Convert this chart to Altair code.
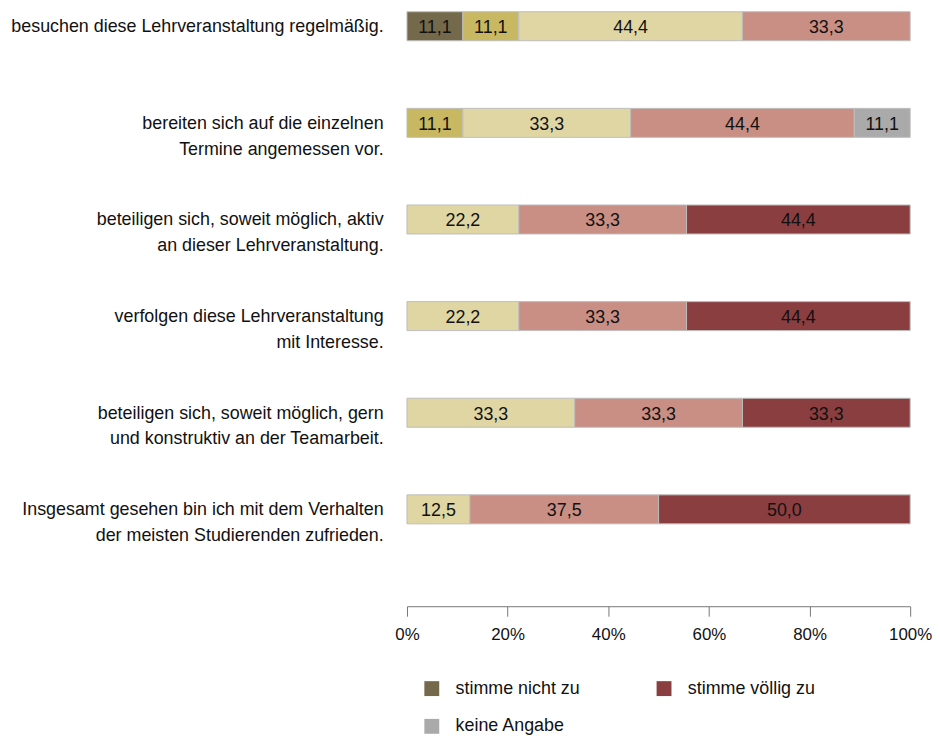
import altair as alt
import pandas as pd

rows = [
    "besuchen diese Lehrveranstaltung regelmäßig.",
    "bereiten sich auf die einzelnen|Termine angemessen vor.",
    "beteiligen sich, soweit möglich, aktiv|an dieser Lehrveranstaltung.",
    "verfolgen diese Lehrveranstaltung|mit Interesse.",
    "beteiligen sich, soweit möglich, gern|und konstruktiv an der Teamarbeit.",
    "Insgesamt gesehen bin ich mit dem Verhalten|der meisten Studierenden zufrieden.",
]

categories = [
    "stimme nicht zu",
    "stimme eher nicht zu",
    "teils/teils",
    "stimme eher zu",
    "stimme völlig zu",
    "keine Angabe",
]
colors = ["#75694b", "#c9b862", "#e0d6a4", "#c98e84", "#8b3e40", "#aaaaaa"]
legend_values = ["stimme nicht zu", "stimme völlig zu", "keine Angabe"]

nicht_zu       = [11.1, 0.0, 0.0, 0.0, 0.0, 0.0]
eher_nicht_zu  = [11.1, 11.1, 0.0, 0.0, 0.0, 0.0]
teils          = [44.4, 33.3, 22.2, 22.2, 33.3, 12.5]
eher_zu        = [33.3, 44.4, 33.3, 33.3, 33.3, 37.5]
voellig_zu     = [0.0, 0.0, 44.4, 44.4, 33.3, 50.0]
keine_angabe   = [0.0, 11.1, 0.0, 0.0, 0.0, 0.0]
series = [nicht_zu, eher_nicht_zu, teils, eher_zu, voellig_zu, keine_angabe]

records = []
for ci, (cat, vals) in enumerate(zip(categories, series)):
    for row, v in zip(rows, vals):
        if v > 0:
            records.append({"row": row, "cat": cat, "ord": ci, "value": v,
                            "label": f"{v:.1f}".replace(".", ",")})
df = pd.DataFrame(records)

FONT = "Liberation Sans, Arial, sans-serif"

base = alt.Chart(df).transform_stack(
    stack="value", groupby=["row"], as_=["x0", "x1"],
    sort=[alt.SortField("ord", order="ascending")], offset="normalize"
).transform_calculate(mid="(datum.x0 + datum.x1) / 2")

ysc = alt.Scale(domain=rows, paddingInner=0.7, paddingOuter=0)

bars = base.mark_bar(stroke="#bdbdbd", strokeWidth=1).encode(
    y=alt.Y("row:N", scale=ysc, sort=rows, axis=alt.Axis(
        title=None, domain=False, ticks=False,
        labelExpr="split(datum.label, '|')",
        labelFontSize=18, labelFont=FONT, labelColor="#111111",
        labelPadding=24, labelLimit=700, labelBaseline="alphabetic",
        labelOffset=6, labelLineHeight=26)),
    x=alt.X("x0:Q", scale=alt.Scale(domain=[0, 1]), axis=alt.Axis(
        title=None, grid=False, format=".0%", values=[0, 0.2, 0.4, 0.6, 0.8, 1.0],
        domainColor="#777777", tickColor="#777777", tickSize=10,
        labelFontSize=17, labelFont=FONT, labelColor="#111111",
        labelPadding=11, labelFlush=False, offset=83)),
    x2="x1:Q",
    color=alt.Color("cat:N", scale=alt.Scale(domain=categories, range=colors),
                    legend=alt.Legend(
                        title=None, values=legend_values, orient="none",
                        direction="horizontal",
                        legendX=16, legendY=673, columns=2, columnPadding=75,
                        rowPadding=20, symbolType="square", symbolSize=225,
                        symbolStrokeWidth=0, labelOffset=15, labelFontSize=18,
                        labelFont=FONT, labelColor="#111111", padding=0)),
)

text = base.mark_text(fontSize=18, font=FONT, color="#111111", dy=2).encode(
    y=alt.Y("row:N", scale=ysc, sort=rows),
    x=alt.X("mid:Q"),
    text="label:N",
)

chart = alt.layer(bars, text).properties(
    width=507, height=516,
    autosize=alt.AutoSizeParams(type="none"),
    padding={"left": 402, "top": 1, "right": 22, "bottom": 214},
).configure_view(stroke=None)

chart.save("out.html", embed_options={"renderer": "svg", "actions": False})
